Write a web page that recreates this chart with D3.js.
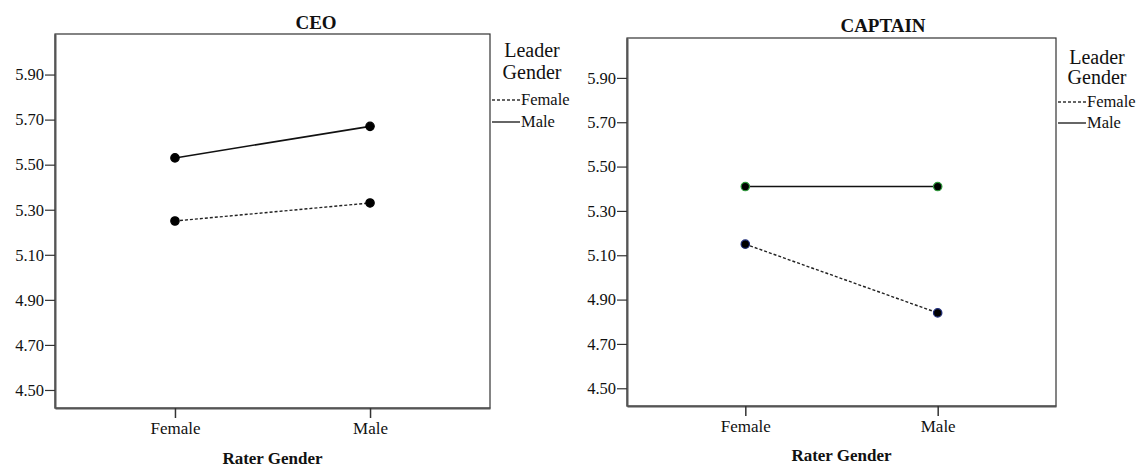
<!DOCTYPE html>
<html>
<head>
<meta charset="utf-8">
<script src="https://cdn.jsdelivr.net/npm/d3@7"></script>
<style>
html,body{margin:0;padding:0;background:#fff;}
svg{display:block;}
text{font-family:"Liberation Serif","Times New Roman",serif;fill:#111;}
</style>
</head>
<body>
<svg id="chart" width="1140" height="467"></svg>
<script>
// ---- data ----
const raterCategories = ["Female", "Male"];
const legendLabels = ["Female", "Male"];
const yTickValues = [4.50, 4.70, 4.90, 5.10, 5.30, 5.50, 5.70, 5.90];
const ceoFemaleLeader = [5.25, 5.33];
const ceoMaleLeader = [5.53, 5.67];
const captainFemaleLeader = [5.15, 4.84];
const captainMaleLeader = [5.41, 5.41];
const panelTitles = ["CEO", "CAPTAIN"];

const svg = d3.select("#chart");

const panels = [
  {title: panelTitles[0], female: ceoFemaleLeader, male: ceoMaleLeader,
   x0: 55, x1: 490, y0: 34, y1: 408, titleX: 316, titleY: 29, axTitleY: 464,
   legX: 492, legTitleX: 532, legY1: 57, legY2: 79, legF: 100, legM: 122,
   mF: "#000", mM: "#000"},
  {title: panelTitles[1], female: captainFemaleLeader, male: captainMaleLeader,
   x0: 627, x1: 1056, y0: 38, y1: 406, titleX: 883, titleY: 32, axTitleY: 461,
   legX: 1058, legTitleX: 1097, legY1: 64, legY2: 84, legF: 102, legM: 123,
   mF: "#1f2d7a", mM: "#2f9a3c"}
];

panels.forEach(p => {
  const g = svg.append("g");
  const x = d3.scalePoint().domain(raterCategories).range([p.x0, p.x1]).padding(0.615);
  const y = d3.scaleLinear().domain([4.42, 6.08]).range([p.y1, p.y0]);

  // frame
  g.append("rect").attr("x", p.x0).attr("y", p.y0)
    .attr("width", p.x1 - p.x0).attr("height", p.y1 - p.y0)
    .attr("fill", "none").attr("stroke", "#333").attr("stroke-width", 1.2);

  // y axis
  const ya = g.append("g").attr("transform", `translate(${p.x0},0)`)
    .call(d3.axisLeft(y).tickValues(yTickValues).tickFormat(d3.format(".2f")).tickSize(10).tickSizeOuter(0));
  ya.select(".domain").attr("stroke", "#555").attr("stroke-width", 2);
  ya.selectAll(".tick line").attr("stroke", "#333").attr("stroke-width", 1.2);
  ya.selectAll(".tick text").attr("font-size", 16.5).attr("x", -11)
    .attr("font-family", "Liberation Serif").attr("fill", "#111");

  // x axis
  const xa = g.append("g").attr("transform", `translate(0,${p.y1})`)
    .call(d3.axisBottom(x).tickSize(10).tickSizeOuter(0));
  xa.select(".domain").attr("stroke", "#555").attr("stroke-width", 2);
  xa.selectAll(".tick line").attr("stroke", "#333").attr("stroke-width", 1.5);
  xa.selectAll(".tick text").attr("font-size", 17).attr("y", 14)
    .attr("font-family", "Liberation Serif").attr("fill", "#111");

  // titles
  g.append("text").attr("x", p.titleX).attr("y", p.titleY).attr("text-anchor", "middle")
    .attr("font-size", 19).attr("font-weight", "bold").text(p.title);
  g.append("text").attr("x", (p.x0 + p.x1) / 2).attr("y", p.axTitleY).attr("text-anchor", "middle")
    .attr("font-size", 17).attr("font-weight", "bold").text("Rater Gender");

  // lines
  const line = d3.line().x((d, i) => x(raterCategories[i])).y(d => y(d));
  g.append("path").datum(p.male).attr("d", line).attr("fill", "none")
    .attr("stroke", "#111").attr("stroke-width", 1.6);
  g.append("path").datum(p.female).attr("d", line).attr("fill", "none")
    .attr("stroke", "#222").attr("stroke-width", 1.4).attr("stroke-dasharray", "3,2");

  // markers
  [[p.male, p.mM], [p.female, p.mF]].forEach(([vals, col]) => {
    g.selectAll(null).data(vals).enter().append("circle")
      .attr("cx", (d, i) => x(raterCategories[i])).attr("cy", d => y(d))
      .attr("r", 4.2).attr("fill", "#000").attr("stroke", col).attr("stroke-width", 1.2);
  });

  // legend
  g.append("text").attr("x", p.legTitleX).attr("y", p.legY1).attr("text-anchor", "middle")
    .attr("font-size", 20).text("Leader");
  g.append("text").attr("x", p.legTitleX).attr("y", p.legY2).attr("text-anchor", "middle")
    .attr("font-size", 20).text("Gender");
  g.append("line").attr("x1", p.legX).attr("x2", p.legX + 28).attr("y1", p.legF).attr("y2", p.legF)
    .attr("stroke", "#333").attr("stroke-width", 1.3).attr("stroke-dasharray", "3,2");
  g.append("text").attr("x", p.legX + 29).attr("y", p.legF + 5).attr("font-size", 16.5).text(legendLabels[0]);
  g.append("line").attr("x1", p.legX).attr("x2", p.legX + 28).attr("y1", p.legM).attr("y2", p.legM)
    .attr("stroke", "#333").attr("stroke-width", 1.5);
  g.append("text").attr("x", p.legX + 29).attr("y", p.legM + 5).attr("font-size", 16.5).text(legendLabels[1]);
});
</script>
</body>
</html>
